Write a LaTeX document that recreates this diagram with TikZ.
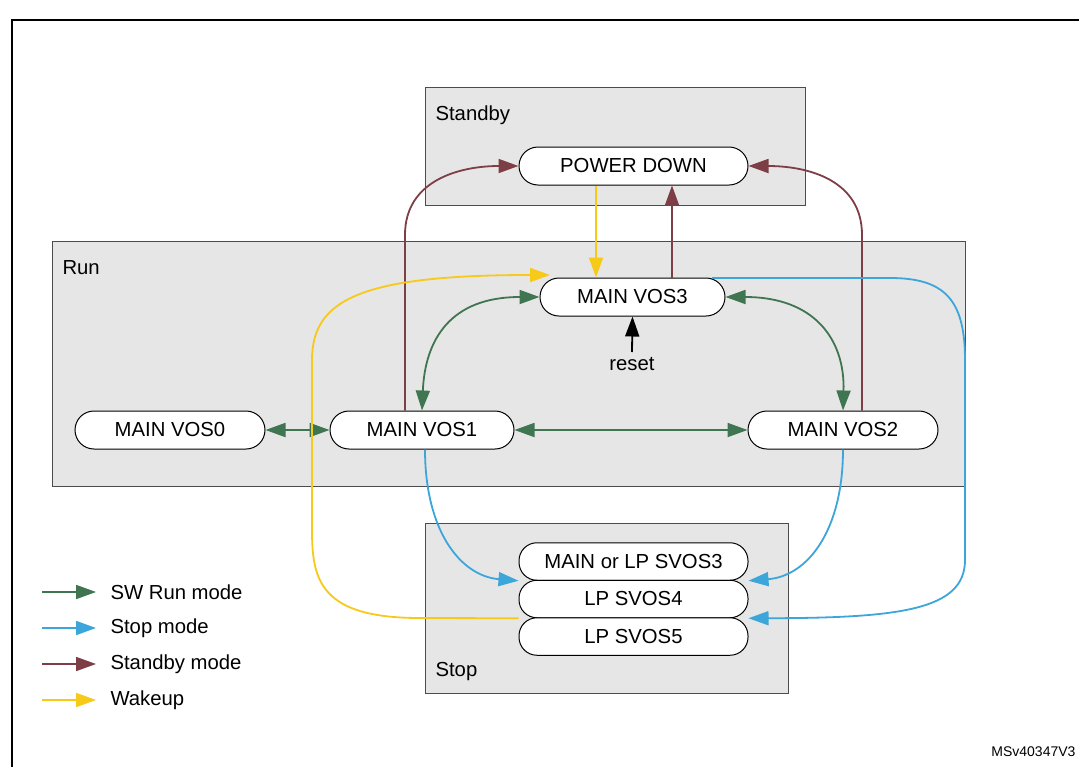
\documentclass[tikz,border=0pt]{standalone}
\usepackage{fontspec}
\setmainfont{Liberation Sans}
\usetikzlibrary{arrows.meta}
\definecolor{cg}{HTML}{3F7550}
\definecolor{cb}{HTML}{3CA6DA}
\definecolor{cr}{HTML}{7E3E46}
\definecolor{cy}{HTML}{F7C919}
\definecolor{gb}{HTML}{E6E6E6}
\begin{document}
\begin{tikzpicture}[x=1pt,y=-1pt,
  grp/.style={draw=black!70,fill=gb,line width=1pt},
  st/.style={draw=black,fill=white,rounded corners=19pt,line width=1pt,minimum width=190pt,minimum height=38pt,inner sep=0pt,font=\fontsize{20.3}{22}\selectfont},
  stk/.style={st,minimum width=229pt,minimum height=37.5pt,rounded corners=18pt},
  lab/.style={anchor=west,font=\fontsize{20.3}{22}\selectfont},
  tip/.style={-{Triangle[length=20pt,width=14pt]}},
  btip/.style={{Triangle[length=20pt,width=14pt]}-{Triangle[length=20pt,width=14pt]}},
  ln/.style={line width=1.8pt}]
\useasboundingbox (0,0) rectangle (1079,766);
\draw[line width=1.3pt] (12,20) rectangle (1090,780);
\draw[grp] (425,87) rectangle (805,205);
\draw[grp] (52,241) rectangle (965,486);
\draw[grp] (425,523) rectangle (788,693);
\node[lab] at (432,115) {Standby};
\node[lab] at (59,268) {Run};
\node[lab] at (432,672) {Stop};
\node[st,minimum width=229pt] (pd) at (633.5,166) {POWER DOWN};
\node[st,minimum width=185pt] (v3) at (632.5,297) {MAIN VOS3};
\node[st] (v0) at (170,430) {MAIN VOS0};
\node[st,minimum width=184pt] (v1) at (422,430) {MAIN VOS1};
\node[st] (v2) at (843,430) {MAIN VOS2};
\node[stk] (s3) at (633.5,561.5) {MAIN or LP SVOS3};
\node[stk] (s4) at (633.5,599) {LP SVOS4};
\node[stk] (s5) at (633.5,636.5) {LP SVOS5};
\coordinate (rs) at (632,352);
\node[font=\fontsize{20.3}{22}\selectfont] (rt) at (632,364) {reset};
\draw[ln,tip] (rs) -- (v3.south);
% green
\draw[ln,cg,btip] (v0.east) -- (v1.west);
\draw[ln,cg,btip] (v1.east) -- (v2.west);
\draw[ln,cg,btip] (v3.west) .. controls (450,297) and (425,340) .. (v1.north);
\draw[ln,cg,btip] (v3.east) .. controls (815,297) and (845,340) .. (v2.north);
% brown
\draw[ln,cr,tip] (v3.north -| 672,0) -- (pd.south -| 672,0);
\draw[ln,cr,tip] (v1.north -| 405,0) -- (405,235) .. controls (405,180) and (460,166) .. (pd.west);
\draw[ln,cr,tip] (v2.north -| 862,0) -- (862,235) .. controls (862,180) and (808,166) .. (pd.east);
% yellow
\draw[ln,cy,tip] (pd.south -| 596,0) -- (v3.north -| 596,0);
\draw[ln,cy,tip] (s4.south west) -- (420,618) .. controls (320,618) and (312,580) .. (312,530) -- (312,360) .. controls (312,300) and (360,275) .. (550,275);
% blue
\draw[ln,cb,tip] (v1.south -| 425,0) .. controls (425,530) and (460,576) .. (s3.south west);
\draw[ln,cb,tip] (v2.south -| 843,0) .. controls (843,530) and (808,576) .. (s3.south east);
\draw[ln,cb,tip] (712,278) -- (890,278) .. controls (945,278) and (965,300) .. (965,360) -- (965,560) .. controls (965,610) and (900,618) .. (s4.south east);
% legend
\foreach \c/\t/\y/\n in {cg/SW Run mode/592/a, cb/Stop mode/628/b, cr/Standby mode/664/c, cy/Wakeup/700/d}{
  \coordinate (l\n) at (42,\y);
  \coordinate (e\n) at (96,\y);
  \node[lab] (t\n) at (107,\y) {\t};
  \draw[ln,\c,tip] (l\n) -- (e\n);
}
\node[anchor=east,font=\fontsize{14}{16}\selectfont] (ms) at (1079,752) {MSv40347V3};
\end{tikzpicture}
\end{document}
